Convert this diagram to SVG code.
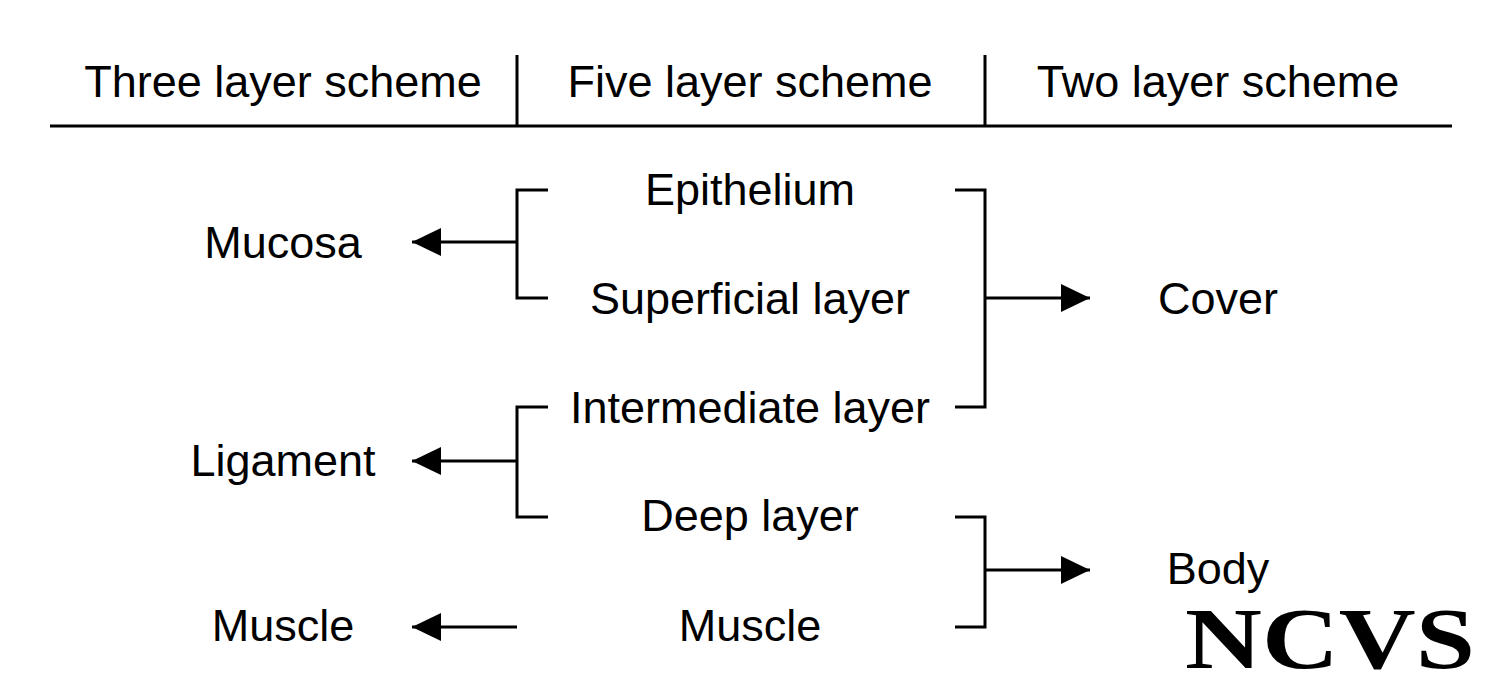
<svg xmlns="http://www.w3.org/2000/svg" width="1500" height="688" viewBox="0 0 1500 688">
<style>
text{font-family:"Liberation Sans",Arial,sans-serif;font-size:45px;fill:#000;text-anchor:middle}
.l{stroke:#000;stroke-width:3;fill:none}
</style>
<defs><marker id="a" markerUnits="userSpaceOnUse" markerWidth="30" markerHeight="30" refX="29" refY="14" orient="auto"><path d="M0,0L29,14L0,28Z" fill="#000"/></marker></defs>
<rect width="1500" height="688" fill="#fff"/>
<g id="header">
<text x="283" y="97">Three layer scheme</text>
<text x="750" y="97">Five layer scheme</text>
<text x="1218" y="97">Two layer scheme</text>
<path class="l" d="M517,55V126M985,55V126M50,126H1452"/>
</g>
<g id="epithelium"><text x="750" y="205">Epithelium</text></g>
<g id="superficial"><text x="750" y="314">Superficial layer</text></g>
<g id="intermediate"><text x="750" y="423">Intermediate layer</text></g>
<g id="deep"><text x="750" y="531">Deep layer</text></g>
<g id="muscle5"><text x="750" y="641">Muscle</text></g>
<g id="mucosa"><text x="283" y="258">Mucosa</text></g>
<g id="ligament"><text x="283" y="476">Ligament</text></g>
<g id="muscle3"><text x="283" y="641">Muscle</text></g>
<g id="cover"><text x="1218" y="314">Cover</text></g>
<g id="body"><text x="1218" y="584">Body</text></g>
<g id="connectors">
<path class="l" d="M548,190H517V298H548M517,242H412" marker-end="url(#a)"/>
<path class="l" d="M548,407H517V517H548M517,461H412" marker-end="url(#a)"/>
<path class="l" d="M517,627H412" marker-end="url(#a)"/>
<path class="l" d="M955,190H985V407H955M985,298H1090" marker-end="url(#a)"/>
<path class="l" d="M955,517H985V627H955M985,570H1090" marker-end="url(#a)"/>
</g>
<g id="logo"><text x="1185" y="668" style="font-family:'Liberation Serif','Times New Roman',serif;font-size:86px;font-weight:bold;text-anchor:start" textLength="290" lengthAdjust="spacingAndGlyphs">NCVS</text></g>
</svg>
